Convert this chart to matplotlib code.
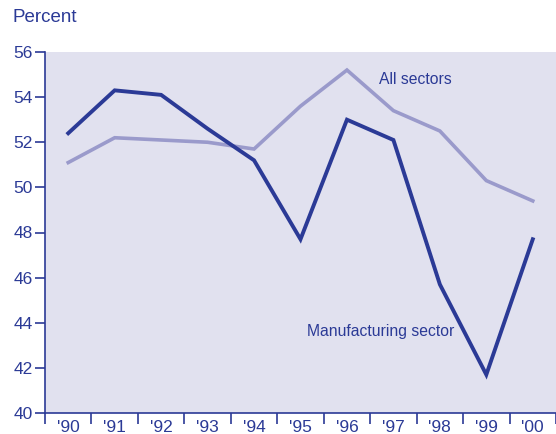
import numpy as np
import matplotlib
matplotlib.use("Agg")
import matplotlib.pyplot as plt

plt.rcParams['font.family'] = ['Liberation Sans', 'DejaVu Sans']

years = ["'90", "'91", "'92", "'93", "'94", "'95", "'96", "'97", "'98", "'99", "'00"]
manufacturing = [52.4, 54.3, 54.1, 52.6, 51.2, 47.7, 53.0, 52.1, 45.7, 41.7, 47.7]
all_sectors = [51.1, 52.2, 52.1, 52.0, 51.7, 53.6, 55.2, 53.4, 52.5, 50.3, 49.4]

dark = '#2B3A96'
light = '#9A9ACB'
bg = '#E1E1EF'

fig = plt.figure(figsize=(5.56, 4.34), dpi=100)
ax = fig.add_axes([45 / 556, 1 - 413 / 434, 1 - 45 / 556, (413 - 52) / 434])
ax.set_facecolor(bg)

x = np.arange(len(years))
ax.plot(x, all_sectors, color=light, lw=2.6, solid_joinstyle='miter')
ax.plot(x, manufacturing, color=dark, lw=2.8, solid_joinstyle='miter')

ax.set_xlim(-0.5, 10.41)
ax.set_ylim(40, 56)
ax.set_yticks(np.arange(40, 57, 2))

ax.set_xticks(np.arange(len(years) + 1) - 0.5)
ax.set_xticklabels([])
ax.set_xticks(x, minor=True)
ax.set_xticklabels(years, minor=True)
ax.tick_params(axis='x', which='major', length=8, width=1.2, color=dark, direction='out')
ax.tick_params(axis='x', which='minor', length=0, labelsize=12.5, labelcolor=dark, pad=5)
ax.tick_params(axis='y', length=7, width=1.2, color=dark, labelsize=12.5, labelcolor=dark, pad=2)

for s in ['top', 'right']:
    ax.spines[s].set_visible(False)
for s in ['left', 'bottom']:
    ax.spines[s].set_color(dark)
    ax.spines[s].set_linewidth(1.2)

fig.text(12 / 556, 1 - 18 / 434, 'Percent', color=dark, fontsize=13.5, va='center', ha='left')
ax.text(6.68, 54.8, 'All sectors', color=dark, fontsize=11.3, va='center', ha='left')
ax.text(5.15, 43.6, 'Manufacturing sector', color=dark, fontsize=11.3, va='center', ha='left')

fig.savefig('out.png', dpi=100)
